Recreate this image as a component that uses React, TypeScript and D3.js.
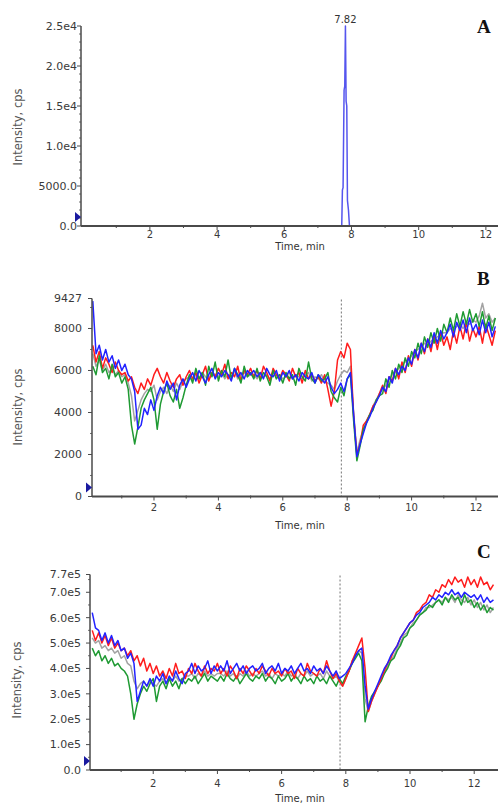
import React from 'react';
import * as d3 from 'd3';

const W = 498;
const H = 803;

// traces in B and C are sampled every 0.1 min starting at 0.1 min
const T0 = 0.1;
const DT = 0.1;

// Panel A: single peak at 7.82 min (cps)
const peakTimes = [7.71, 7.73, 7.75, 7.78, 7.8, 7.82, 7.84, 7.86, 7.88, 7.91, 7.94];
const peakValues = [0, 4500, 4800, 17000, 17500, 25000, 15600, 15000, 3200, 2000, 0];

// Panel B (cps)
const bRed = [
  7200, 6400, 6900, 6100, 6600, 6300, 5900, 6400, 6000, 5800,
  5900, 5500, 5700, 5200, 4900, 5400, 5100, 5600, 5300, 5800,
  6100, 5700, 5400, 5900, 5500, 5200, 5600, 5800, 5300, 5700,
  6000, 5600, 5900, 5400, 5800, 6200, 5500, 5900, 5700, 6100,
  5800, 6300, 5600, 5900, 5700, 6200, 5500, 6000, 5800, 6100,
  5700, 6000, 5600, 6200, 5900, 5500, 6100, 5800, 5600, 6000,
  5800, 5500, 6100, 5700, 5900, 5400, 6000, 5600, 5800, 5500,
  5700, 5400, 5800, 5100, 4300, 5000, 6500, 6900, 6600, 7300,
  7000, 3800, 2000, 2500, 3400, 3600, 3900, 4300, 4500, 4900,
  5300, 4900, 5700, 5500, 6100, 5600, 6400, 5900, 6700, 6200,
  7000, 6500, 7300, 6800, 7500, 6900, 7700, 7000, 7800, 7200,
  7600, 7000, 7900, 7300, 8100, 7500, 8300, 7400, 8000, 7600,
  8100, 7300, 8200, 7700, 7200, 7900,
];
const bGreen = [
  6200, 5800, 6700, 5900, 6100, 5600, 6300, 5700, 5900, 5400,
  5700, 5100, 3400, 2500, 3300, 4200, 4600, 4900, 5200, 4600,
  3200, 4400, 5000, 5400, 4800, 4500, 5100, 4200, 4700, 5300,
  5800, 5400, 6100, 5600, 5900, 5300, 6200, 5700, 6400, 5500,
  6000, 5700, 6500, 5600, 6100, 5800, 5400, 6200, 5700, 5900,
  5600, 6100, 5500, 5900, 5700, 5300, 6000, 5600, 5800, 5400,
  5900, 5600, 5800, 5300, 6100, 5700, 5500, 6400, 5600, 5400,
  5800, 5500, 5600, 5900, 5000, 4700, 4500, 5200, 4800, 5600,
  5800, 3600, 1700, 2400, 3200, 3500, 3900, 4100, 4600, 4800,
  4900, 5600, 5200, 6000, 5600, 6300, 5900, 6600, 6200, 6900,
  6600, 7300, 6800, 7600, 7100, 7800, 7300, 8000, 7400, 8200,
  7800, 8500, 7900, 8700, 8100, 8800, 8200, 8900, 8300, 8700,
  8100, 8800, 8000, 8600, 7900, 8500,
];
const bBlue = [
  9300, 6800, 7200, 6500, 7000, 6400, 6700, 6100, 6500, 6000,
  6300, 5800, 5600, 5000, 3200, 3400, 4200, 3900, 4600, 4100,
  4800, 5200, 4900, 5500, 5100, 5400, 4600, 5300, 5600, 5200,
  5600, 5900, 5500, 6000, 5700, 5400, 5800, 6100, 5600, 5900,
  5700, 6000, 5800, 5500, 6100, 5700, 5900, 5600, 6000, 5800,
  6000, 5700, 5900, 5600, 6100, 5800, 5700, 6000, 5500, 5900,
  5700, 6000, 5600, 5800, 5500, 5900, 5700, 5600, 5900, 5400,
  5800, 5600, 5400, 5700, 5200, 4900, 5100, 5400, 5000, 5600,
  5900, 3900, 1900, 2500, 3000, 3500, 3800, 4200, 4500, 4800,
  5200, 5000, 5700, 5400, 6100, 5800, 6200, 6000, 6600, 6300,
  7000, 6600, 7300, 6900, 7500, 7100, 7800, 7300, 7900, 7500,
  7800, 8200, 7600, 8300, 7900, 8400, 7800, 8500, 7900, 8200,
  7700, 8400, 7800, 8300, 7600, 8100,
];
const bGray = [
  6800, 6200, 6500, 6000, 6300, 5900, 6100, 5800, 6000, 5700,
  5800, 5400, 4800, 3600, 4100, 4600, 4900, 5100, 5000, 5300,
  4600, 5000, 5200, 4900, 5300, 5000, 5400, 5100, 5500, 5600,
  5700, 5500, 5800, 5600, 5900, 5700, 5600, 5900, 5800, 5700,
  5900, 5600, 5800, 5700, 6000, 5600, 5800, 5900, 5700, 5800,
  5800, 5600, 5900, 5700, 5800, 5600, 5900, 5700, 5800, 5600,
  5700, 5900, 5600, 5800, 5700, 5600, 5800, 5900, 5500, 5700,
  5600, 5800, 5500, 5400, 5300, 5100, 5500, 5800, 6000, 5900,
  6200, 4000, 2100, 2700, 3200, 3600, 3900, 4300, 4600, 4900,
  5100, 5300, 5600, 5800, 5900, 6100, 6300, 6400, 6500, 6700,
  6900, 7000, 7100, 7300, 7200, 7400, 7500, 7600, 7700, 7800,
  7800, 8000, 7900, 8100, 8200, 8000, 8300, 8200, 8400, 8300,
  8600, 9200, 8500, 8700, 8300, 8500,
];

// Panel C (units of 1e5 cps)
const cRed = [
  5.5, 5.1, 5.4, 5.0, 5.3, 4.9, 5.2, 4.8, 5.0, 4.7,
  4.8, 4.5, 4.7, 4.3, 4.5, 4.1, 4.4, 3.9, 4.2, 3.8,
  4.1, 3.7, 3.9, 3.6, 4.0, 3.7, 4.2, 3.8, 3.9, 3.6,
  4.0, 3.8, 4.2, 3.9, 3.7, 4.1, 3.8, 4.0, 3.9, 4.2,
  3.8, 4.0, 3.7, 4.1, 3.9, 3.6, 4.0, 3.8, 4.1, 3.9,
  3.7, 4.0, 3.8, 4.1, 3.9, 3.7, 4.0, 3.8, 3.9, 3.7,
  4.0, 3.8, 3.9, 3.6, 4.0, 3.8, 3.7, 4.2, 3.9, 3.8,
  3.7, 4.0, 3.8, 4.3, 3.9, 3.6, 3.8, 3.5, 3.3, 3.6,
  3.9, 4.3, 4.6, 4.9, 5.2, 4.0, 2.3, 2.7, 3.0, 3.3,
  3.6, 3.9, 4.2, 4.4, 4.7, 4.9, 5.2, 5.4, 5.6, 5.8,
  5.9, 6.2, 6.3, 6.5, 6.6, 6.9, 6.8, 7.1, 7.0, 7.3,
  7.2, 7.5, 7.3, 7.6, 7.4, 7.5, 7.2, 7.6, 7.3, 7.5,
  7.2, 7.6, 7.3, 7.4, 7.1, 7.3,
];
const cGreen = [
  4.8, 4.5, 4.7, 4.3, 4.5, 4.2, 4.4, 4.1, 4.2, 4.0,
  3.9, 3.7, 3.0, 2.0, 2.6, 3.0, 3.3, 3.1, 3.4, 3.6,
  2.7, 3.3, 3.5, 3.2, 3.6, 3.3, 3.5, 3.2, 3.6, 3.4,
  3.6, 3.5, 3.7, 3.4, 3.6, 3.8, 3.5, 3.7, 3.6, 3.5,
  3.7, 3.5, 3.8, 3.6, 3.5, 3.7, 3.4, 3.6, 3.8, 3.6,
  3.5, 3.7, 3.6, 3.8, 3.5, 3.7, 3.6, 3.4, 3.7, 3.5,
  3.6, 3.8, 3.5, 3.7, 3.6, 3.4, 3.7, 3.5, 3.6, 3.4,
  3.7, 3.5, 3.6, 3.4, 3.7, 3.5, 3.3, 3.6, 3.4, 3.7,
  3.9, 4.2, 4.4, 4.6, 4.3, 1.9, 2.5, 2.9, 3.1, 3.3,
  3.5, 3.8, 4.0, 4.3, 4.4, 4.7, 4.9, 5.2, 5.3, 5.6,
  5.7, 5.9, 6.1, 6.2, 6.3, 6.5, 6.4, 6.6, 6.7, 6.5,
  6.8, 6.6, 6.9, 6.7, 6.8, 6.5, 6.9, 6.6, 6.7, 6.4,
  6.6, 6.3, 6.5, 6.2, 6.4, 6.3,
];
const cBlue = [
  6.2, 5.6, 5.5, 5.1, 5.4, 5.0, 5.3, 4.9, 5.1, 4.7,
  4.8, 4.4, 4.6, 4.2, 2.7, 3.1, 3.5, 3.3, 3.6, 3.3,
  3.7, 3.5, 3.8, 3.4, 3.7, 3.5, 3.9, 3.6, 3.4, 3.8,
  3.9, 4.2, 3.8, 4.1, 3.9, 4.0, 4.3, 3.8, 4.1, 3.9,
  4.1, 3.9, 4.3, 3.8, 4.0, 4.2, 3.9, 4.1, 3.8, 4.0,
  4.1, 3.9, 4.0, 4.2, 3.8, 4.0, 4.1, 3.9, 4.2, 3.8,
  4.0, 3.9, 4.1, 3.8, 4.0, 4.2, 3.9, 4.0, 3.8, 4.1,
  3.9, 4.0, 3.8, 4.1, 3.9, 3.7, 3.9, 3.6, 3.7, 3.8,
  4.0, 4.2, 4.5, 4.7, 4.8, 3.3, 2.4, 2.8, 3.1, 3.4,
  3.7, 4.0, 4.2, 4.5, 4.7, 4.9, 5.2, 5.4, 5.6, 5.8,
  5.9, 6.1, 6.2, 6.4, 6.5, 6.6, 6.8, 6.7, 6.9, 6.8,
  7.0, 6.9, 7.1, 6.9, 7.0, 6.8, 7.0, 6.9, 6.8, 6.9,
  6.7, 6.9, 6.6, 6.8, 6.6, 6.7,
];
const cGray = [
  5.2, 5.0, 5.1, 4.8, 4.9, 4.7, 4.8, 4.6, 4.7, 4.4,
  4.5, 4.2, 4.1, 3.5, 3.2, 3.4, 3.5, 3.3, 3.5, 3.4,
  3.3, 3.5, 3.6, 3.4, 3.6, 3.5, 3.7, 3.5, 3.6, 3.7,
  3.7, 3.8, 3.6, 3.8, 3.7, 3.9, 3.7, 3.8, 3.7, 3.8,
  3.8, 3.7, 3.9, 3.7, 3.8, 3.6, 3.8, 3.7, 3.9, 3.7,
  3.8, 3.7, 3.8, 3.9, 3.7, 3.8, 3.6, 3.8, 3.7, 3.8,
  3.7, 3.9, 3.7, 3.8, 3.6, 3.8, 3.7, 3.9, 3.7, 3.8,
  3.7, 3.8, 3.6, 3.9, 3.7, 3.6, 3.7, 3.5, 3.3, 3.6,
  3.9, 4.3, 4.5, 4.7, 4.6, 2.8, 2.3, 2.7, 3.0, 3.3,
  3.6, 3.8, 4.1, 4.3, 4.5, 4.8, 5.0, 5.3, 5.4, 5.6,
  5.8, 5.9, 6.1, 6.2, 6.4, 6.4, 6.5, 6.6, 6.7, 6.6,
  6.8, 6.7, 6.8, 6.6, 6.9, 6.7, 6.6, 6.8, 6.5, 6.7,
  6.4, 6.6, 6.3, 6.5, 6.2, 6.4,
];

const xMajor = [2, 4, 6, 8, 10, 12];
const xMinor = [1, 3, 5, 7, 9, 11];

const aTicks = [0, 5000, 10000, 15000, 20000, 25000];
const bTicks = [0, 2000, 4000, 6000, 8000, 9427];
const cTicks = [0, 1, 2, 3, 4, 5, 6, 7, 7.7];

const markerTime = 7.82;

const COLORS = { red: '#ff1c1c', green: '#1f9a33', blue: '#2222ff', gray: '#a3a3a3', peak: '#5555ee' };
const AXIS = '#4a4a4a';
const SANS = 'DejaVu Sans, Verdana, sans-serif';

type Trace = { color: string; times: number[]; values: number[] };

type PanelCfg = {
  letter: string;
  left: number;
  right: number;
  top: number;
  bottom: number;
  tMin: number;
  tMax: number;
  yMax: number;
  ticks: number[];
  minorStep: number;
  fmt: (v: number) => string;
  labelGap: number;
  tickLabelY: number;
  titleY: number;
  yLabelX: number;
  yLabelY: number;
  letterY: number;
  dashed: boolean;
  traces: Trace[];
  peakLabel?: boolean;
};

const sampleTimes = (n: number) => d3.range(n).map((i) => +(T0 + i * DT).toFixed(2));

function Panel({ cfg }: { cfg: PanelCfg }) {
  const x = d3.scaleLinear().domain([cfg.tMin, cfg.tMax]).range([cfg.left, cfg.right]);
  const y = d3.scaleLinear().domain([0, cfg.yMax]).range([cfg.bottom, cfg.top]);
  const line = d3
    .line<[number, number]>()
    .x((d) => x(d[0]))
    .y((d) => y(d[1]));
  const minors = d3.range(0, cfg.yMax, cfg.minorStep).filter((v) => !cfg.ticks.includes(v));
  const clipId = `clip-${cfg.letter}`;

  return (
    <g>
      <defs>
        <clipPath id={clipId}>
          <rect x={cfg.left} y={cfg.top - 2} width={W - cfg.left} height={cfg.bottom - cfg.top + 2} />
        </clipPath>
      </defs>

      {cfg.dashed && (
        <line
          x1={x(markerTime)}
          x2={x(markerTime)}
          y1={cfg.top + 1}
          y2={cfg.bottom}
          stroke="#8a8a8a"
          strokeWidth={1.2}
          strokeDasharray="2,2"
        />
      )}

      <g clipPath={`url(#${clipId})`}>
        {cfg.traces.map((tr, i) => (
          <path
            key={i}
            d={line(tr.times.map((t, j) => [t, tr.values[j]] as [number, number])) || ''}
            fill="none"
            stroke={tr.color}
            strokeWidth={1.5}
            strokeLinejoin="round"
          />
        ))}
      </g>

      {/* y axis */}
      <line x1={cfg.left} x2={cfg.left} y1={cfg.top} y2={cfg.bottom} stroke={AXIS} strokeWidth={1.5} />
      {cfg.ticks.map((v) => (
        <g key={v}>
          <line x1={cfg.left - 4} x2={cfg.left} y1={y(v)} y2={y(v)} stroke={AXIS} strokeWidth={1} />
          <text
            x={cfg.left - cfg.labelGap}
            y={y(v)}
            dy="0.35em"
            textAnchor="end"
            fontFamily={SANS}
            fontSize={11}
            fill="#3a3a3a"
          >
            {cfg.fmt(v)}
          </text>
        </g>
      ))}
      {minors.map((v) => (
        <line key={v} x1={cfg.left - 2} x2={cfg.left} y1={y(v)} y2={y(v)} stroke={AXIS} strokeWidth={0.8} />
      ))}

      {/* x axis */}
      <line x1={cfg.left} x2={W} y1={cfg.bottom} y2={cfg.bottom} stroke={AXIS} strokeWidth={1.8} />
      {xMajor.map((t) => (
        <g key={t}>
          <line x1={x(t)} x2={x(t)} y1={cfg.bottom} y2={cfg.bottom + 4} stroke={AXIS} strokeWidth={1} />
          <text x={x(t)} y={cfg.tickLabelY} textAnchor="middle" fontFamily={SANS} fontSize={10} fill="#3a3a3a">
            {t}
          </text>
        </g>
      ))}
      {xMinor.map((t) => (
        <line key={t} x1={x(t)} x2={x(t)} y1={cfg.bottom - 1} y2={cfg.bottom + 2} stroke={AXIS} strokeWidth={1} />
      ))}
      <text x={300} y={cfg.titleY} textAnchor="middle" fontFamily={SANS} fontSize={10} fill="#333">
        Time, min
      </text>

      {/* y label */}
      <text
        transform={`translate(${cfg.yLabelX},${cfg.yLabelY}) rotate(-90)`}
        textAnchor="middle"
        fontFamily={SANS}
        fontSize={11.5}
        fill="#555"
      >
        Intensity, cps
      </text>

      {/* blue marker on the y axis */}
      <path
        d={`M${cfg.left - 6},${cfg.bottom - 14} L${cfg.left},${cfg.bottom - 9} L${cfg.left - 6},${cfg.bottom - 4} Z`}
        fill="#1a1aa0"
      />

      {cfg.peakLabel && (
        <text x={x(7.82)} y={23} textAnchor="middle" fontFamily={SANS} fontSize={10} fill="#333">
          7.82
        </text>
      )}

      <text
        x={477}
        y={cfg.letterY}
        fontFamily="Liberation Serif, Times New Roman, serif"
        fontWeight="bold"
        fontSize={19}
        fill="#111"
      >
        {cfg.letter}
      </text>
    </g>
  );
}

export default function App() {
  const n = bRed.length;
  const times = sampleTimes(n);

  const panels: PanelCfg[] = [
    {
      letter: 'A',
      left: 81,
      right: 501,
      top: 26,
      bottom: 226,
      tMin: -0.05,
      tMax: 12.45,
      yMax: 25000,
      ticks: aTicks,
      minorStep: 1000,
      fmt: (v) => (v >= 10000 ? `${(v / 10000).toFixed(1)}e4` : v.toFixed(1)),
      labelGap: 4,
      tickLabelY: 238,
      titleY: 250,
      yLabelX: 22,
      yLabelY: 127,
      letterY: 33,
      dashed: false,
      traces: [{ color: COLORS.peak, times: peakTimes, values: peakValues }],
      peakLabel: true,
    },
    {
      letter: 'B',
      left: 92,
      right: 506.6,
      top: 298.5,
      bottom: 496.5,
      tMin: 0.075,
      tMax: 12.95,
      yMax: 9427,
      ticks: bTicks,
      minorStep: 1000,
      fmt: (v) => `${v}`,
      labelGap: 10,
      tickLabelY: 511,
      titleY: 529,
      yLabelX: 22,
      yLabelY: 407,
      letterY: 285,
      dashed: true,
      traces: [
        { color: COLORS.gray, times, values: bGray },
        { color: COLORS.red, times, values: bRed },
        { color: COLORS.green, times, values: bGreen },
        { color: COLORS.blue, times, values: bBlue },
      ],
    },
    {
      letter: 'C',
      left: 90,
      right: 504.7,
      top: 574.5,
      bottom: 770,
      tMin: 0.03,
      tMax: 12.95,
      yMax: 7.7,
      ticks: cTicks,
      minorStep: 0.5,
      fmt: (v) => `${v.toFixed(1)}${v === 0 ? '' : 'e5'}`,
      labelGap: 9,
      tickLabelY: 787,
      titleY: 802,
      yLabelX: 21,
      yLabelY: 680,
      letterY: 558,
      dashed: true,
      traces: [
        { color: COLORS.gray, times, values: cGray },
        { color: COLORS.green, times, values: cGreen },
        { color: COLORS.red, times, values: cRed },
        { color: COLORS.blue, times, values: cBlue },
      ],
    },
  ];

  return (
    <svg
      width={W}
      height={H}
      style={{ position: 'absolute', left: 0, top: 0, background: '#fff' }}
      xmlns="http://www.w3.org/2000/svg"
    >
      {panels.map((p) => (
        <Panel key={p.letter} cfg={p} />
      ))}
    </svg>
  );
}
